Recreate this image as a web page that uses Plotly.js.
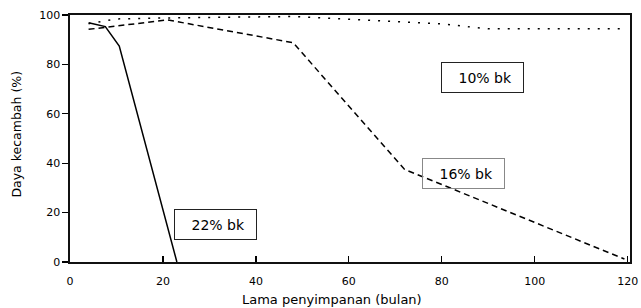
<!DOCTYPE html>
<html>
<head>
<meta charset="utf-8">
<script src="https://cdn.plot.ly/plotly-3.0.1.min.js"></script>
<style>html,body{margin:0;padding:0;background:#fff;}#chart{width:641px;height:308px;}</style>
</head>
<body>
<div id="chart"></div>
<script>
// Lama penyimpanan (bulan) and Daya kecambah (%)
const x22 = [4, 7.6, 10.6, 23];
const y22 = [96.9, 95.3, 87.4, 0];
const x16 = [4, 21, 48, 72, 119.3];
const y16 = [94.2, 98, 88.8, 37.5, 1.2];
const x10 = [4, 10, 20, 48, 80, 90, 120];
const y10 = [96.5, 98.4, 98.8, 99.4, 96.4, 94.4, 94.4];
const xTicks = [0, 20, 40, 60, 80, 100, 120];
const yTicks = [0, 20, 40, 60, 80, 100];
const labels = ["10% bk", "16% bk", "22% bk"];
const labelX = [88.7, 84.7, 31.2];
const labelY = [74.5, 36.0, 15.2];
const labelBorder = ["#222", "#888", "#222"];

const FONT = "DejaVu Sans, Liberation Sans, sans-serif";

const traces = [
  {x: x22, y: y22, mode: "lines", line: {color: "#000", width: 1.5, dash: "solid"}, hoverinfo: "skip"},
  {x: x16, y: y16, mode: "lines", line: {color: "#000", width: 1.5, dash: "6px,4px"}, hoverinfo: "skip"},
  {x: x10, y: y10, mode: "lines", line: {color: "#000", width: 1.5, dash: "2px,8px"}, hoverinfo: "skip"}
];

const annotations = labels.map((t, i) => ({
  x: labelX[i], y: labelY[i], xref: "x", yref: "y",
  text: t + "&nbsp;&nbsp;", showarrow: false,
  font: {family: FONT, size: 14, color: "#000"},
  width: 75, height: 23, align: "right", valign: "middle",
  bordercolor: labelBorder[i], borderwidth: 1, borderpad: 3
}));

annotations.push({
  x: (332 - 69.5) / 560.5, y: -0.15, xref: "paper", yref: "paper",
  text: "Lama penyimpanan (bulan)", showarrow: false,
  xanchor: "center", yanchor: "middle",
  font: {family: FONT, size: 13, color: "#000"}
});
annotations.push({
  x: -0.0955, y: 0.518, xref: "paper", yref: "paper",
  text: "Daya kecambah (%)", showarrow: false, textangle: -90,
  xanchor: "center", yanchor: "middle",
  font: {family: FONT, size: 12.5, color: "#000"}
});

const layout = {
  width: 641, height: 308,
  margin: {l: 69.5, r: 11, t: 15, b: 46},
  paper_bgcolor: "#fff", plot_bgcolor: "#fff",
  showlegend: false,
  font: {family: FONT, size: 11, color: "#000"},
  xaxis: {
    range: [0, 120.5], tickvals: xTicks, ticktext: xTicks.map(String),
    ticks: "inside", ticklen: 6, tickwidth: 1.3, tickcolor: "#000",
    showline: true, linecolor: "#111", linewidth: 1.6, mirror: true,
    showgrid: false, zeroline: false, ticklabelstandoff: 8,
    tickfont: {family: FONT, size: 11, color: "#000"}
  },
  yaxis: {
    range: [0, 100], tickvals: yTicks, ticktext: yTicks.map(String),
    ticks: "outside", ticklen: 6, tickwidth: 1.3, tickcolor: "#000",
    showline: true, linecolor: "#111", linewidth: 1.6, mirror: true,
    showgrid: false, zeroline: false,
    tickfont: {family: FONT, size: 11, color: "#000"}
  },
  annotations: annotations
};

Plotly.newPlot("chart", traces, layout, {staticPlot: true, displayModeBar: false});
</script>
</body>
</html>
